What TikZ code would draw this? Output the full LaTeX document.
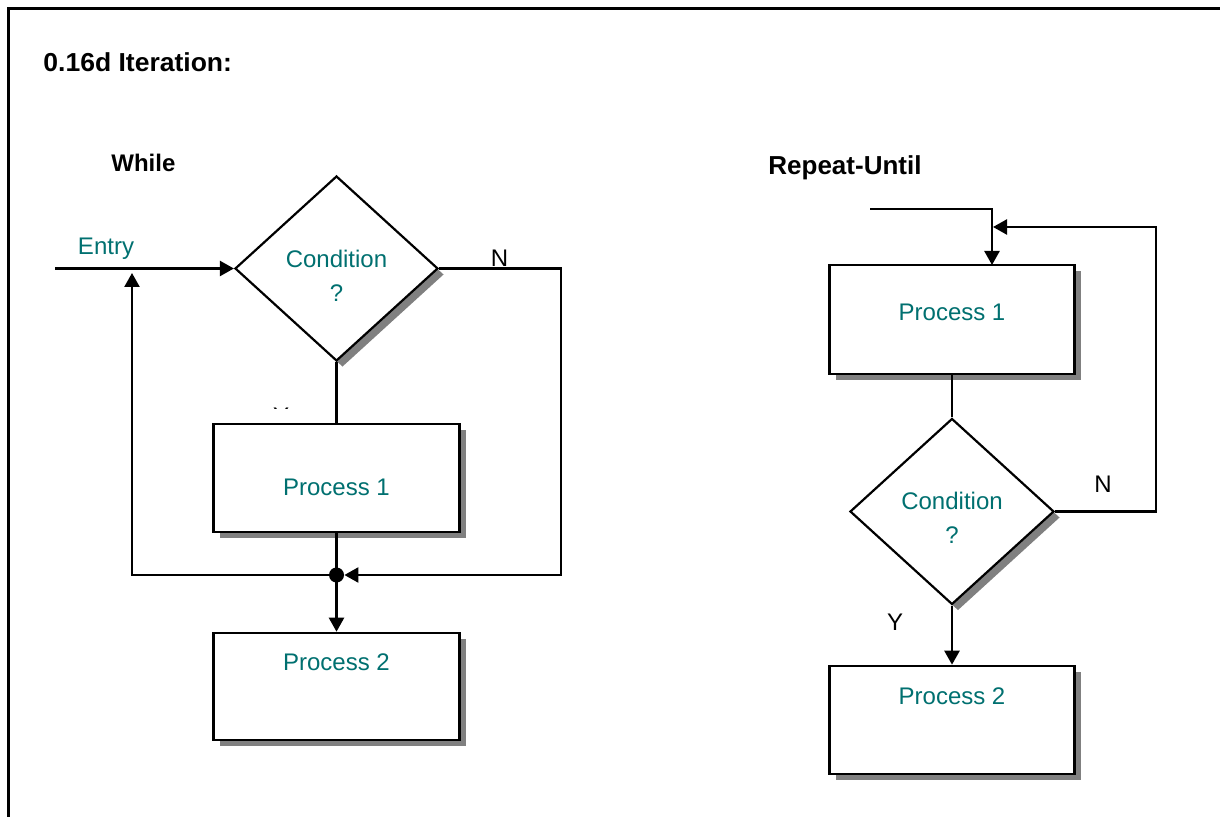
\documentclass[tikz,border=0pt]{standalone}
\usepackage{fontspec}
\setmainfont{Liberation Sans}
\usetikzlibrary{arrows.meta,shapes.geometric,shadows}
\definecolor{textteal}{RGB}{0,112,112}
\definecolor{shadowgray}{RGB}{128,128,128}
\tikzset{
  boxshadow/.style={drop shadow={shadow xshift=3pt,shadow yshift=-3pt,fill=shadowgray,opacity=1}},
  procbox/.style={draw,line width=1.3pt,fill=white,rectangle,inner sep=0pt,
    minimum width=123pt,minimum height=54pt,boxshadow},
  decision/.style={draw,line width=1.1pt,fill=white,diamond,inner sep=0pt,
    minimum width=101.5pt,minimum height=92.5pt,boxshadow},
  tealtext/.style={text=textteal,font=\fontsize{12}{17}\selectfont,align=center,inner sep=0pt},
  flagtext/.style={font=\fontsize{12}{14}\selectfont,inner sep=0pt},
  headtext/.style={font=\bfseries\fontsize{13}{15}\selectfont,inner sep=0pt,anchor=west},
  flow/.style={line width=1.2pt},
  flowarrow/.style={line width=1.2pt,-{Triangle[length=7pt,width=7.5pt]}},
  joint/.style={circle,fill=black,minimum size=7.5pt,inner sep=0pt}
}
\begin{document}
\begin{tikzpicture}[x=0.5pt,y=-0.5pt]
\useasboundingbox (0,0) rectangle (1220,817);
% page frame (open towards the right and bottom)
\draw[line width=1.5pt] (8.5,817) -- (8.5,9) -- (1220,9);

% headings
\node[headtext,xscale=1.02] (title) at (43,62) {0.16d Iteration:};
\node[headtext,font=\bfseries\fontsize{12}{14}\selectfont] (whilehead) at (111,163) {While};
\node[headtext] (repeathead) at (768,168) {Repeat-Until};

% ---------------- While loop ----------------
\node[decision] (dw) at (336.5,268.5) {};
\node[tealtext] (dwt) at (336.5,276) {Condition\\?};
\node[procbox] (p1w) at (336.5,478) {};
\node[tealtext] (p1wt) at (336.5,487) {Process 1};
\node[procbox,minimum height=53.5pt] (p2w) at (336.5,686.5) {};
\node[tealtext] (p2wt) at (336.5,662) {Process 2};
\node[joint] (jw) at (336.5,575) {};

\coordinate (entw) at (55,268.5);
\coordinate (backw) at (132,273);
\coordinate (nw) at (561,268.5);

\node[tealtext,anchor=south] (entryt) at (106,260) {Entry};
\node[flagtext,anchor=base] (nwt) at (499.5,267) {N};
\begin{scope}
  \clip (260,405) rectangle (300,409);
  \node[flagtext] (ywt) at (281,416) {Y};
\end{scope}

\draw[flowarrow] (entw) -- (dw.west);
\draw[flow] (dw.south) -- (p1w.north);
\draw[flow] (p1w.south) -- (jw.center);
\draw[flowarrow] (jw.center) -- (p2w.north);
\draw[flowarrow] (jw.center) -| (backw);
\draw[flowarrow] (dw.east) -- (nw) |- (jw.east);

% ---------------- Repeat-Until loop ----------------
\node[procbox,minimum width=122.5pt,minimum height=54.5pt] (p1r) at (952,319.5) {};
\node[tealtext] (p1rt) at (952,312) {Process 1};
\node[decision,minimum width=102pt,minimum height=93pt] (dr) at (952,511.5) {};
\node[tealtext] (drt) at (952,518) {Condition\\?};
\node[procbox,minimum width=122.5pt] (p2r) at (952,720) {};
\node[tealtext] (p2rt) at (952,696) {Process 2};

\coordinate (entr) at (870,209);
\coordinate (inr) at (992,265);
\coordinate (nr) at (1156,511.5);
\coordinate (backr) at (993,227);

\node[flagtext] (nrt) at (1103,484) {N};
\node[flagtext] (yrt) at (895,622) {Y};

\draw[flowarrow] (entr) -| (inr);
\draw[flow] (p1r.south) -- (dr.north);
\draw[flowarrow] (dr.south) -- (p2r.north);
\draw[flowarrow] (dr.east) -- (nr) |- (backr);
\end{tikzpicture}
\end{document}
